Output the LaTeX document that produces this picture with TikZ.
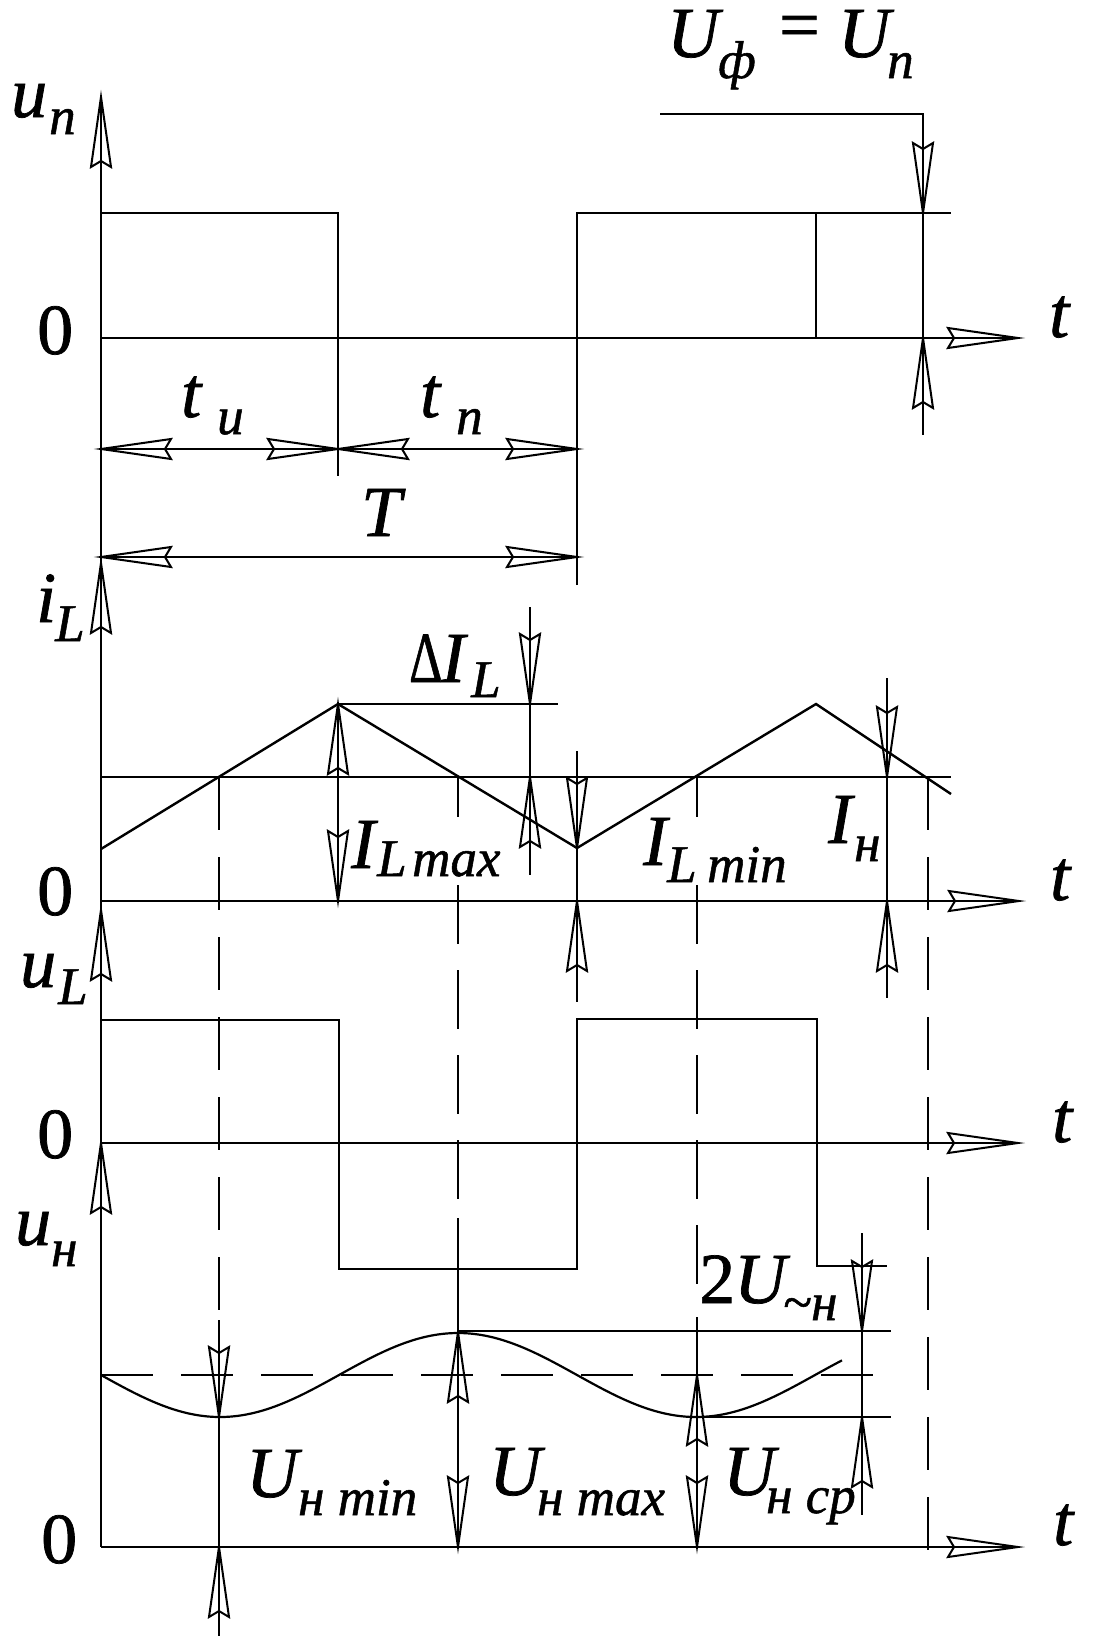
\documentclass[tikz,border=0pt]{standalone}
\usepackage{graphicx}
\usepackage{fontspec}
\setmainfont{Liberation Serif}[FakeBold=1,ItalicFeatures={FakeBold=1}]
\newcommand\ArrR[1]{\draw[arrowline] (#1) -- ++(-70,-10) -- ++(6,10) -- ++(-6,10) -- cycle;}
\newcommand\ArrL[1]{\draw[arrowline] (#1) -- ++(70,-10) -- ++(-6,10) -- ++(6,10) -- cycle;}
\newcommand\ArrU[1]{\draw[arrowline] (#1) -- ++(-10,70) -- ++(10,-6) -- ++(10,6) -- cycle;}
\newcommand\ArrD[1]{\draw[arrowline] (#1) -- ++(-10,-70) -- ++(10,6) -- ++(10,-6) -- cycle;}
\begin{document}
\begin{tikzpicture}[x=1pt,y=-1pt,line width=2.4pt,line join=miter,
  arrowline/.style={line width=2pt,line join=miter},
  lbl/.style={inner sep=0pt,anchor=base west,font=\fontsize{72}{72}\selectfont\itshape},
  sub/.style={inner sep=0pt,anchor=base west,font=\fontsize{53}{53}\selectfont\itshape},
  num/.style={inner sep=0pt,anchor=base west,font=\fontsize{72}{72}\selectfont},
  meandash/.style={dash pattern=on 52pt off 28pt}]
\fill[white] (0,0) rectangle (1110,1636);
\useasboundingbox (0,0) rectangle (1110,1636);
% ---------- main vertical axis
\draw (101,97) -- (101,1547);
\ArrU{101,97} \ArrU{101,563} \ArrU{101,910} \ArrU{101,1143}
% ---------- panel 1 : u_p
\draw (101,213) -- (338,213) -- (338,476);
\draw (577,585) -- (577,213) -- (951,213);
\draw (816,213) -- (816,338);
\draw (101,338) -- (1018,338); \ArrR{1018,338}
\draw (101,449) -- (577,449);
\ArrL{101,449} \ArrR{338,449} \ArrL{338,449} \ArrR{577,449}
\draw (101,557) -- (577,557);
\ArrL{101,557} \ArrR{577,557}
\draw (660,114) -- (923,114) -- (923,435);
\ArrD{923,213} \ArrU{923,338}
% ---------- panel 2 : i_L
\draw (101,777) -- (951,777);
\draw (101,901) -- (1019,901); \ArrR{1019,901}
\draw (101,849) -- (338,704) -- (577,848) -- (816,704) -- (951,794);
\draw (338,704) -- (558,704);
\draw (338,704) -- (338,901); \ArrU{338,704} \ArrD{338,901}
\draw (530,607) -- (530,875); \ArrD{530,704} \ArrU{530,777}
\draw (577,751) -- (577,1002); \ArrD{577,848} \ArrU{577,901}
\draw (887,678) -- (887,998); \ArrD{887,777} \ArrU{887,901}
% ---------- dashed projection lines
\foreach \s in {777,857,937,1017,1097,1177,1257} \draw (219,\s) -- (219,{\s+53});
\draw (219,1320) -- (219,1636);
\foreach \s in {777,857,937,1017,1097,1177,1257,1337,1417,1497} \draw (928,\s) -- (928,{\s+53});
\draw (458,777) -- (458,817);
\foreach \s in {885,970,1055,1140} \draw (458,\s) -- (458,{\s+59});
\draw (458,1218) -- (458,1547);
\draw (697,777) -- (697,817);
\foreach \s in {885,970,1055,1140,1225} \draw (697,\s) -- (697,{\s+59});
\draw (697,1317) -- (697,1547);
% ---------- panel 3 : u_L
\draw (101,1020) -- (339,1020) -- (339,1269) -- (577,1269) -- (577,1019) -- (817,1019) -- (817,1266) -- (887,1266);
\draw (101,1143) -- (1018,1143); \ArrR{1018,1143}
% ---------- panel 4 : u_n
\draw (101,1547) -- (1018,1547); \ArrR{1018,1547}
\draw[line width=2.2pt] plot[domain=101:842,samples=120,smooth] (\x,{1375+42*sin(0.756303*(\x-101))});
\draw (458,1331) -- (891,1331);
\draw (697,1417) -- (891,1417);
\draw[meandash] (101,1375) -- (879,1375);
\ArrD{219,1417} \ArrU{219,1547}
\ArrU{458,1332} \ArrD{458,1547}
\ArrU{697,1375} \ArrD{697,1547}
\draw (862,1233) -- (862,1515); \ArrD{862,1331} \ArrU{862,1417}
% ---------- labels
\node[lbl] (un) at (10,117) {u};
\node[sub] (uns) at (48,134) {п};
\node[num] (z1) at (36,354) {0};
\node[lbl] (tu) at (180,417) {t};
\node[sub] (tus) at (216,434) {и};
\node[lbl] (tp) at (419,417) {t};
\node[sub] (tps) at (455,434) {п};
\node[lbl] (TT) at (360,536) {T};
\node[lbl] (Uf) at (666,57) {U};
\node[sub] (Ufs) at (717,78) {ф};
\node[num] (eq) at (778,49) {=};
\node[lbl] (Up) at (837,57) {U};
\node[sub] (Ups) at (886,78) {п};
\node[lbl] (t1) at (1048,337) {t};
\node[lbl] (iL) at (35,622) {i};
\node[sub] (iLs) at (54,641) {L};
\node[num] (dl) at (408,682) {\scalebox{0.72}[1]{Δ}};
\node[lbl] (dI) at (440,682) {I};
\node[sub] (dIs) at (470,697) {L};
\node[num] (z2) at (36,915) {0};
\node[lbl] (Imax) at (350,868) {I};
\node[sub] (ImaxL) at (376,876) {L};
\node[sub] (Imaxs) at (411,876) {max};
\node[lbl] (Imin) at (642,865) {I};
\node[sub] (IminL) at (666,882) {L};
\node[sub] (Imins) at (706,882) {min};
\node[lbl] (In) at (827,843) {I};
\node[sub] (Ins) at (853,861) {н};
\node[lbl] (t2) at (1049,900) {t};
\node[lbl] (uL) at (19,987) {u};
\node[sub] (uLs) at (57,1004) {L};
\node[num] (z3) at (36,1158) {0};
\node[lbl] (t3) at (1051,1142) {t};
\node[lbl] (uh) at (14,1245) {u};
\node[sub] (uhs) at (50,1266) {н};
\node[num] (two) at (698,1303) {2};
\node[lbl] (U2) at (733,1303) {U};
\node[sub,anchor=center] (tld) at (797,1309) {\textasciitilde};
\node[sub] (U2s) at (810,1320) {н};
\node[lbl] (Umin) at (245,1497) {U};
\node[sub] (Umins) at (297,1515) {н min};
\node[lbl] (Umax) at (488,1495) {U};
\node[sub] (Umaxs) at (536,1515) {н max};
\node[lbl] (Ucp) at (722,1495) {U};
\node[sub] (Ucps) at (765,1513) {н ср};
\node[num] (z4) at (40,1563) {0};
\node[lbl] (t4) at (1052,1545) {t};
\end{tikzpicture}
\end{document}
